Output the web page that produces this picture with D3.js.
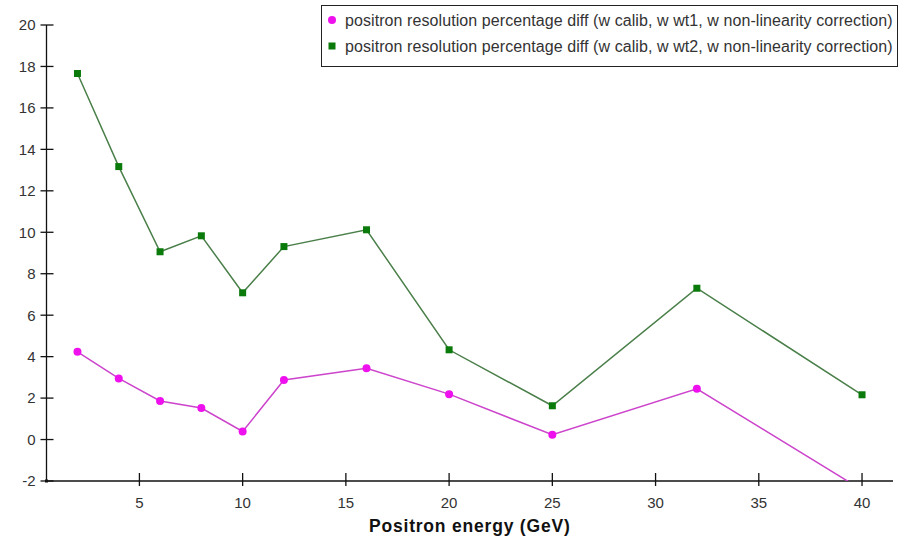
<!DOCTYPE html>
<html>
<head>
<meta charset="utf-8">
<script src="https://cdn.jsdelivr.net/npm/d3@7"></script>
<style>
  html, body { margin: 0; padding: 0; background: #fff; }
  svg { display: block; font-family: "Liberation Sans", Arial, sans-serif; }
</style>
</head>
<body>
<svg id="chart" width="904" height="542"></svg>
<script>
// Beam energies (GeV)
const energies = [2, 4, 6, 8, 10, 12, 16, 20, 25, 32, 40];
// Resolution percentage difference, weighting scheme 1
const diffWt1 = [4.23, 2.95, 1.86, 1.52, 0.39, 2.87, 3.44, 2.19, 0.23, 2.45, -2.43];
// Resolution percentage difference, weighting scheme 2
const diffWt2 = [17.66, 13.17, 9.06, 9.83, 7.08, 9.31, 10.12, 4.33, 1.63, 7.30, 2.16];
const seriesNames = [
  "positron resolution percentage diff (w calib, w wt1, w non-linearity correction)",
  "positron resolution percentage diff (w calib, w wt2, w non-linearity correction)"
];
const xTicks = [5, 10, 15, 20, 25, 30, 35, 40];
const yTicks = [-2, 0, 2, 4, 6, 8, 10, 12, 14, 16, 18, 20];
const xTitle = "Positron energy (GeV)";

const svg = d3.select("#chart");
const plotLeft = 46.5, plotRight = 893, plotTop = 25, plotBottom = 481;

const x = d3.scaleLinear().domain([0.5, 41.5]).range([plotLeft, plotRight]);
const y = d3.scaleLinear().domain([-2, 20]).range([plotBottom, plotTop]);

const textColor = "#333";

// clip region for the data
svg.append("defs").append("clipPath").attr("id", "plotClip")
  .append("rect").attr("x", plotLeft).attr("y", plotTop - 10)
  .attr("width", plotRight - plotLeft).attr("height", plotBottom - plotTop + 10);

// Y axis
const yAxis = svg.append("g");
yAxis.append("line").attr("x1", plotLeft).attr("x2", plotLeft)
  .attr("y1", y(20)).attr("y2", y(-2)).attr("stroke", "#111").attr("stroke-width", 1.3);
yAxis.selectAll("line.tick").data(yTicks).join("line").attr("class", "tick")
  .attr("x1", plotLeft - 6).attr("x2", plotLeft + 7)
  .attr("y1", d => y(d)).attr("y2", d => y(d))
  .attr("stroke", "#111").attr("stroke-width", 1.3);
yAxis.selectAll("text").data(yTicks).join("text")
  .attr("x", plotLeft - 11).attr("y", d => y(d)).attr("dy", "0.36em")
  .attr("text-anchor", "end").attr("font-size", 15).attr("fill", textColor)
  .text(d => d);

// X axis
const xAxis = svg.append("g");
xAxis.append("line").attr("x1", plotLeft).attr("x2", plotRight)
  .attr("y1", plotBottom).attr("y2", plotBottom).attr("stroke", "#111").attr("stroke-width", 1.3);
xAxis.selectAll("line.tick").data(xTicks).join("line").attr("class", "tick")
  .attr("x1", d => x(d)).attr("x2", d => x(d))
  .attr("y1", plotBottom - 8).attr("y2", plotBottom + 5)
  .attr("stroke", "#111").attr("stroke-width", 1.3);
xAxis.selectAll("text").data(xTicks).join("text")
  .attr("x", d => x(d)).attr("y", plotBottom + 27)
  .attr("text-anchor", "middle").attr("font-size", 15).attr("fill", textColor)
  .text(d => d);
svg.append("rect").attr("x", plotLeft - 1.5).attr("y", plotBottom - 1.5)
  .attr("width", 3).attr("height", 3).attr("fill", "#111");

svg.append("text").attr("x", (plotLeft + plotRight) / 2).attr("y", plotBottom + 51)
  .attr("text-anchor", "middle").attr("font-size", 17.5).attr("font-weight", "bold")
  .attr("letter-spacing", 0.8).attr("fill", "#111").text(xTitle);

// Series
const series = [
  { values: diffWt1, line: "#cc44cc", fill: "#ee11ee", shape: "circle" },
  { values: diffWt2, line: "#4a7f4a", fill: "#0a7a0a", shape: "square" }
];

const plot = svg.append("g").attr("clip-path", "url(#plotClip)");
const lineGen = d3.line().x(d => x(d[0])).y(d => y(d[1]));

series.forEach(s => {
  const pts = energies.map((e, i) => [e, s.values[i]]);
  plot.append("path").datum(pts).attr("d", lineGen)
    .attr("fill", "none").attr("stroke", s.line).attr("stroke-width", 1.5);
  if (s.shape === "circle") {
    plot.selectAll(null).data(pts).join("circle")
      .attr("cx", d => x(d[0])).attr("cy", d => y(d[1])).attr("r", 4)
      .attr("fill", s.fill);
  } else {
    plot.selectAll(null).data(pts).join("rect")
      .attr("x", d => x(d[0]) - 3.5).attr("y", d => y(d[1]) - 3.5)
      .attr("width", 7).attr("height", 7).attr("fill", s.fill);
  }
});

// Legend
const legend = svg.append("g");
legend.append("rect").attr("x", 321.5).attr("y", 5.5).attr("width", 576).attr("height", 61)
  .attr("fill", "#fff").attr("stroke", "#222").attr("stroke-width", 1);
seriesNames.forEach((name, i) => {
  const cy = 20 + i * 26;
  if (series[i].shape === "circle") {
    legend.append("circle").attr("cx", 332).attr("cy", cy).attr("r", 4).attr("fill", series[i].fill);
  } else {
    legend.append("rect").attr("x", 328.5).attr("y", cy - 3.5).attr("width", 7).attr("height", 7)
      .attr("fill", series[i].fill);
  }
  legend.append("text").attr("x", 345).attr("y", cy).attr("dy", "0.36em")
    .attr("font-size", 16).attr("letter-spacing", 0.08).attr("fill", textColor).text(name);
});
</script>
</body>
</html>
